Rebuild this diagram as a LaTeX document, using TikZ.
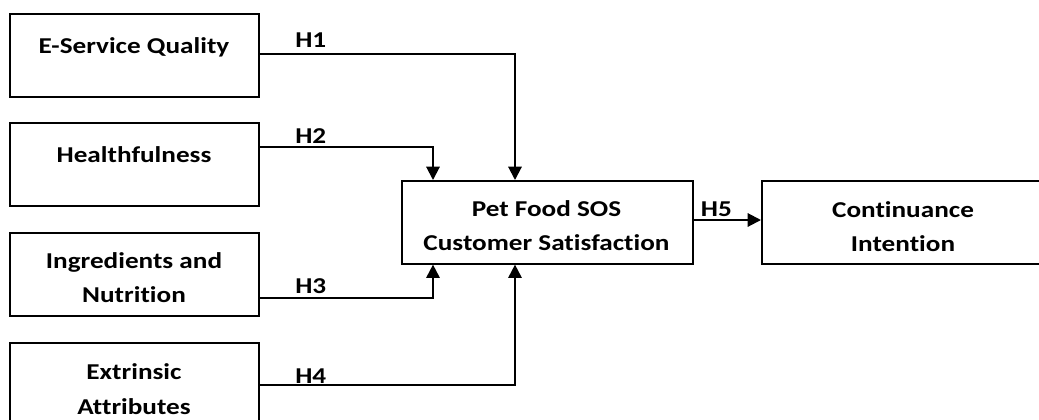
\documentclass[tikz,border=0pt]{standalone}
\usepackage{fontspec}
\setmainfont{Carlito}[FakeStretch=1.2, Ligatures=NoCommon]
\usetikzlibrary{arrows.meta}
\begin{document}
\begin{tikzpicture}[x=0.75pt,y=-0.75pt,
  box/.style={draw=black, line width=1.2pt, minimum width=#1, minimum height=62.25pt, inner sep=0pt, anchor=north west},
  txt/.style={font=\fontsize{17}{26}\selectfont\bfseries, align=center, inner sep=0pt},
  hyp/.style={font=\fontsize{17}{20}\selectfont\bfseries, inner sep=0pt, anchor=base west},
  conn/.style={line width=1.5pt, -{Triangle[length=10pt,width=10pt]}}]
\useasboundingbox (0,0) rectangle (1039,419);
% boxes
\node[box=186.75pt] (esq) at (9,13) {};
\node[box=186.75pt] (hl) at (9,122) {};
\node[box=186.75pt] (ing) at (9,232) {};
\node[box=186.75pt] (ext) at (9,342) {};
\node[box=218.25pt] (psc) at (401,180) {};
\node[box=212.25pt] (ci) at (761,180) {};
% texts
\node[txt, anchor=base] (esqt) at (134,53) {E-Service Quality};
\node[txt, anchor=base] (hlt) at (134,162) {Healthfulness};
\node[txt] (ingt) at (134,277.6) {Ingredients and\\Nutrition};
\node[txt] (extt) at (134,389) {Extrinsic\\Attributes};
\node[txt] (psct) at (546.5,225.6) {Pet Food SOS\\Customer Satisfaction};
\node[txt] (cit) at (903,226.6) {Continuance\\Intention};
% arrow targets
\coordinate (t1) at ([xshift=85.5pt]psc.north west);
\coordinate (t2) at ([xshift=24pt]psc.north west);
\coordinate (t3) at ([xshift=24pt]psc.south west);
\coordinate (t4) at ([xshift=85.5pt]psc.south west);
% connectors
\draw[conn] (esq.north east) ++(0,41) -| (t1);
\draw[conn] (hl.north east) ++(0,25) -| (t2);
\draw[conn] (ing.north east) ++(0,66) -| (t3);
\draw[conn] (ext.north east) ++(0,43) -| (t4);
\draw[conn] (psc.east |- 0,220) -- (ci.west |- 0,220);
% labels
\node[hyp] (h1) at (295,47.7) {H1};
\node[hyp] (h2) at (295,143) {H2};
\node[hyp] (h3) at (295,293) {H3};
\node[hyp] (h4) at (295,383) {H4};
\node[hyp] (h5) at (700.7,216.7) {H5};
\end{tikzpicture}
\end{document}
